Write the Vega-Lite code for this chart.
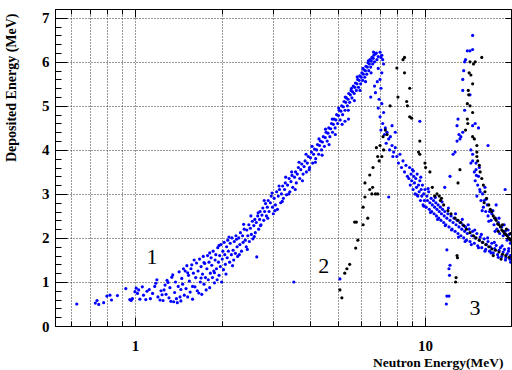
{
"$schema":"https://vega.github.io/schema/vega-lite/v6.json",
"width":456,"height":317,"autosize":"none",
"padding":{"left":55,"top":9,"right":1,"bottom":44},
"background":"white",
"config":{"view":{"stroke":"black","strokeWidth":1},
"axis":{"labelFont":"Liberation Serif","labelFontWeight":"bold","labelFontSize":15,"labelColor":"black","titleFont":"Liberation Serif","titleFontWeight":"bold","titleFontSize":14,"titleColor":"black","domainColor":"black","tickColor":"black","gridColor":"#333","gridDash":[1,2],"gridWidth":1,"labelOverlap":false,"labelFlush":false}},
"datasets":{
"pts":[
{"E":0.63,"D":0.5,"g":"b"},{"E":0.73,"D":0.52,"g":"b"},{"E":0.74,"D":0.58,"g":"b"},{"E":0.75,"D":0.49,"g":"b"},{"E":0.78,"D":0.53,"g":"b"},{"E":0.8,"D":0.68,"g":"b"},{"E":0.82,"D":0.7,"g":"b"},{"E":0.83,"D":0.59,"g":"b"},{"E":0.87,"D":0.69,"g":"b"},{"E":0.93,"D":0.85,"g":"b"},{"E":0.96,"D":0.6,"g":"b"},{"E":0.98,"D":0.62,"g":"b"},{"E":0.97,"D":0.58,"g":"b"},{"E":1.0,"D":0.78,"g":"b"},{"E":1.01,"D":0.86,"g":"b"},{"E":1.02,"D":0.74,"g":"b"},{"E":1.03,"D":0.82,"g":"b"},{"E":1.04,"D":0.61,"g":"b"},{"E":1.06,"D":0.89,"g":"b"},{"E":1.07,"D":0.7,"g":"b"},
{"E":1.09,"D":0.6,"g":"b"},{"E":1.1,"D":0.79,"g":"b"},{"E":1.12,"D":0.83,"g":"b"},{"E":1.13,"D":0.62,"g":"b"},{"E":1.15,"D":0.74,"g":"b"},{"E":1.17,"D":0.9,"g":"b"},{"E":1.18,"D":0.97,"g":"b"},{"E":1.19,"D":1.05,"g":"b"},{"E":1.2,"D":0.66,"g":"b"},{"E":1.22,"D":0.59,"g":"b"},{"E":1.23,"D":0.8,"g":"b"},{"E":1.25,"D":0.58,"g":"b"},{"E":1.26,"D":0.82,"g":"b"},{"E":1.27,"D":0.93,"g":"b"},{"E":1.28,"D":0.72,"g":"b"},{"E":1.3,"D":0.99,"g":"b"},{"E":1.31,"D":0.64,"g":"b"},{"E":1.32,"D":0.87,"g":"b"},{"E":1.33,"D":0.56,"g":"b"},{"E":1.34,"D":1.11,"g":"b"},{"E":1.35,"D":1.16,"g":"b"},{"E":1.36,"D":0.55,"g":"b"},{"E":1.37,"D":0.76,"g":"b"},{"E":1.38,"D":1.0,"g":"b"},{"E":1.39,"D":0.62,"g":"b"},{"E":1.4,"D":0.53,"g":"b"},{"E":1.41,"D":0.9,"g":"b"},{"E":1.42,"D":1.23,"g":"b"},{"E":1.43,"D":0.66,"g":"b"},{"E":1.44,"D":0.57,"g":"b"},{"E":1.45,"D":1.08,"g":"b"},{"E":1.46,"D":0.95,"g":"b"},{"E":1.47,"D":1.3,"g":"b"},{"E":1.48,"D":0.7,"g":"b"},{"E":1.49,"D":1.25,"g":"b"},{"E":1.5,"D":0.85,"g":"b"},{"E":1.51,"D":1.37,"g":"b"},{"E":1.52,"D":0.66,"g":"b"},{"E":1.53,"D":1.15,"g":"b"},{"E":1.54,"D":1.02,"g":"b"},{"E":1.55,"D":0.77,"g":"b"},{"E":1.56,"D":1.3,"g":"b"},{"E":1.57,"D":1.39,"g":"b"},{"E":1.58,"D":0.9,"g":"b"},{"E":1.59,"D":1.2,"g":"b"},{"E":1.6,"D":1.5,"g":"b"},{"E":1.61,"D":0.89,"g":"b"},{"E":1.62,"D":1.1,"g":"b"},{"E":1.63,"D":1.43,"g":"b"},{"E":1.64,"D":0.8,"g":"b"},
{"E":1.65,"D":1.25,"g":"b"},{"E":1.66,"D":0.75,"g":"b"},{"E":1.67,"D":1.52,"g":"b"},{"E":1.68,"D":1.0,"g":"b"},{"E":1.69,"D":1.35,"g":"b"},{"E":1.7,"D":0.72,"g":"b"},{"E":1.71,"D":1.18,"g":"b"},{"E":1.72,"D":1.58,"g":"b"},{"E":1.73,"D":0.95,"g":"b"},{"E":1.74,"D":1.42,"g":"b"},{"E":1.75,"D":1.1,"g":"b"},{"E":1.76,"D":0.82,"g":"b"},{"E":1.77,"D":1.3,"g":"b"},{"E":1.78,"D":1.6,"g":"b"},{"E":1.79,"D":1.05,"g":"b"},{"E":1.8,"D":1.45,"g":"b"},{"E":1.81,"D":0.87,"g":"b"},{"E":1.82,"D":1.2,"g":"b"},{"E":1.83,"D":1.55,"g":"b"},{"E":1.84,"D":1.38,"g":"b"},{"E":1.85,"D":1.1,"g":"b"},{"E":1.86,"D":1.7,"g":"b"},{"E":1.87,"D":1.25,"g":"b"},{"E":1.88,"D":0.98,"g":"b"},{"E":1.89,"D":1.5,"g":"b"},{"E":1.9,"D":1.62,"g":"b"},{"E":1.91,"D":1.3,"g":"b"},{"E":1.92,"D":1.05,"g":"b"},{"E":1.93,"D":1.78,"g":"b"},{"E":1.94,"D":1.45,"g":"b"},{"E":1.95,"D":1.15,"g":"b"},{"E":1.96,"D":1.6,"g":"b"},{"E":1.97,"D":1.35,"g":"b"},{"E":1.98,"D":1.85,"g":"b"},{"E":1.99,"D":1.0,"g":"b"},{"E":2.0,"D":1.52,"g":"b"},{"E":2.01,"D":1.7,"g":"b"},{"E":2.02,"D":1.28,"g":"b"},{"E":2.03,"D":1.9,"g":"b"},{"E":2.04,"D":1.62,"g":"b"},{"E":2.05,"D":1.4,"g":"b"},{"E":2.07,"D":1.8,"g":"b"},{"E":2.08,"D":1.55,"g":"b"},{"E":2.09,"D":1.95,"g":"b"},{"E":2.1,"D":1.7,"g":"b"},
{"E":2.12,"D":1.45,"g":"b"},{"E":2.13,"D":1.88,"g":"b"},{"E":2.15,"D":1.62,"g":"b"},{"E":2.16,"D":2.0,"g":"b"},{"E":2.18,"D":1.72,"g":"b"},{"E":2.19,"D":1.5,"g":"b"},{"E":2.2,"D":1.92,"g":"b"},{"E":2.22,"D":1.65,"g":"b"},{"E":2.23,"D":2.05,"g":"b"},{"E":2.25,"D":1.8,"g":"b"},{"E":2.26,"D":1.58,"g":"b"},{"E":2.28,"D":2.0,"g":"b"},{"E":2.3,"D":1.85,"g":"b"},{"E":2.31,"D":2.12,"g":"b"},{"E":2.33,"D":1.7,"g":"b"},{"E":2.35,"D":2.05,"g":"b"},{"E":2.36,"D":1.9,"g":"b"},{"E":2.38,"D":2.2,"g":"b"},{"E":2.4,"D":1.95,"g":"b"},{"E":2.42,"D":1.8,"g":"b"},{"E":2.43,"D":2.18,"g":"b"},{"E":2.45,"D":2.05,"g":"b"},{"E":2.47,"D":2.3,"g":"b"},{"E":2.48,"D":1.92,"g":"b"},{"E":2.5,"D":2.22,"g":"b"},{"E":2.52,"D":2.08,"g":"b"},{"E":2.54,"D":2.38,"g":"b"},{"E":2.55,"D":1.98,"g":"b"},{"E":2.57,"D":2.28,"g":"b"},{"E":2.59,"D":2.42,"g":"b"},{"E":2.6,"D":2.12,"g":"b"},{"E":2.63,"D":1.57,"g":"b"},{"E":2.62,"D":2.35,"g":"b"},{"E":2.65,"D":2.5,"g":"b"},{"E":2.67,"D":2.2,"g":"b"},{"E":2.69,"D":2.42,"g":"b"},{"E":2.7,"D":2.6,"g":"b"},{"E":2.72,"D":2.3,"g":"b"},{"E":2.74,"D":2.52,"g":"b"},{"E":2.76,"D":2.68,"g":"b"},{"E":2.78,"D":2.4,"g":"b"},{"E":2.8,"D":2.6,"g":"b"},{"E":2.82,"D":2.78,"g":"b"},{"E":2.84,"D":2.5,"g":"b"},{"E":2.86,"D":2.7,"g":"b"},{"E":2.88,"D":2.85,"g":"b"},{"E":2.9,"D":2.6,"g":"b"},{"E":2.93,"D":2.8,"g":"b"},{"E":2.95,"D":2.95,"g":"b"},{"E":2.98,"D":2.7,"g":"b"},
{"E":3.0,"D":2.55,"g":"b"},{"E":3.02,"D":2.9,"g":"b"},{"E":3.05,"D":2.75,"g":"b"},{"E":3.08,"D":3.05,"g":"b"},{"E":3.1,"D":2.65,"g":"b"},{"E":3.12,"D":2.95,"g":"b"},{"E":3.15,"D":3.1,"g":"b"},{"E":3.18,"D":2.8,"g":"b"},{"E":3.2,"D":3.0,"g":"b"},{"E":3.23,"D":3.18,"g":"b"},{"E":3.25,"D":2.9,"g":"b"},{"E":3.28,"D":3.1,"g":"b"},{"E":3.3,"D":3.25,"g":"b"},{"E":3.33,"D":2.98,"g":"b"},{"E":3.36,"D":3.2,"g":"b"},{"E":3.4,"D":3.35,"g":"b"},{"E":3.42,"D":3.05,"g":"b"},{"E":3.45,"D":3.28,"g":"b"},{"E":3.48,"D":3.42,"g":"b"},{"E":3.5,"D":3.15,"g":"b"},{"E":3.53,"D":1.0,"g":"b"},{"E":3.55,"D":3.38,"g":"b"},{"E":3.58,"D":3.5,"g":"b"},{"E":3.6,"D":3.25,"g":"b"},{"E":3.63,"D":3.45,"g":"b"},{"E":3.66,"D":3.6,"g":"b"},{"E":3.7,"D":3.35,"g":"b"},{"E":3.73,"D":3.55,"g":"b"},{"E":3.76,"D":3.68,"g":"b"},{"E":3.8,"D":3.45,"g":"b"},{"E":3.83,"D":3.62,"g":"b"},{"E":3.86,"D":3.75,"g":"b"},{"E":3.9,"D":3.5,"g":"b"},{"E":3.93,"D":3.7,"g":"b"},{"E":3.96,"D":3.85,"g":"b"},
{"E":4.0,"D":3.6,"g":"b"},{"E":4.03,"D":3.82,"g":"b"},{"E":4.06,"D":3.95,"g":"b"},{"E":4.1,"D":3.7,"g":"b"},{"E":4.13,"D":3.9,"g":"b"},{"E":4.16,"D":4.02,"g":"b"},{"E":4.2,"D":3.8,"g":"b"},{"E":4.23,"D":4.0,"g":"b"},{"E":4.26,"D":4.12,"g":"b"},{"E":4.3,"D":3.9,"g":"b"},{"E":4.33,"D":4.1,"g":"b"},{"E":4.36,"D":4.2,"g":"b"},{"E":4.4,"D":4.0,"g":"b"},{"E":4.43,"D":4.18,"g":"b"},{"E":4.46,"D":4.3,"g":"b"},{"E":4.5,"D":4.08,"g":"b"},{"E":4.53,"D":4.28,"g":"b"},{"E":4.56,"D":4.4,"g":"b"},{"E":4.6,"D":4.2,"g":"b"},{"E":4.63,"D":4.38,"g":"b"},{"E":4.66,"D":4.5,"g":"b"},{"E":4.7,"D":4.3,"g":"b"},{"E":4.73,"D":4.48,"g":"b"},{"E":4.76,"D":4.6,"g":"b"},{"E":4.8,"D":4.4,"g":"b"},{"E":4.83,"D":4.58,"g":"b"},{"E":4.86,"D":4.7,"g":"b"},{"E":4.9,"D":4.5,"g":"b"},{"E":4.93,"D":4.68,"g":"b"},{"E":4.96,"D":4.8,"g":"b"},{"E":5.0,"D":4.6,"g":"b"},{"E":5.45,"D":4.7,"g":"b"},{"E":5.3,"D":4.65,"g":"b"},{"E":5.09,"D":1.07,"g":"b"},
{"E":5.03,"D":4.78,"g":"b"},{"E":5.06,"D":4.9,"g":"b"},{"E":5.1,"D":4.68,"g":"b"},{"E":5.13,"D":4.88,"g":"b"},{"E":5.16,"D":5.0,"g":"b"},{"E":5.2,"D":4.8,"g":"b"},{"E":5.23,"D":4.98,"g":"b"},{"E":5.26,"D":5.1,"g":"b"},{"E":5.3,"D":4.9,"g":"b"},{"E":5.33,"D":5.08,"g":"b"},{"E":5.36,"D":5.18,"g":"b"},{"E":5.4,"D":5.0,"g":"b"},{"E":5.43,"D":5.15,"g":"b"},{"E":5.46,"D":5.28,"g":"b"},{"E":5.5,"D":5.08,"g":"b"},{"E":5.53,"D":5.25,"g":"b"},{"E":5.56,"D":5.35,"g":"b"},{"E":5.6,"D":5.18,"g":"b"},{"E":5.63,"D":5.32,"g":"b"},{"E":5.66,"D":5.45,"g":"b"},{"E":5.7,"D":5.28,"g":"b"},{"E":5.73,"D":5.42,"g":"b"},{"E":5.76,"D":5.52,"g":"b"},{"E":5.8,"D":5.35,"g":"b"},{"E":5.83,"D":5.5,"g":"b"},{"E":5.86,"D":5.6,"g":"b"},{"E":5.9,"D":5.42,"g":"b"},{"E":5.93,"D":5.58,"g":"b"},{"E":5.96,"D":5.68,"g":"b"},{"E":6.0,"D":5.5,"g":"b"},
{"E":6.03,"D":5.65,"g":"b"},{"E":6.06,"D":5.75,"g":"b"},{"E":6.1,"D":5.58,"g":"b"},{"E":6.13,"D":5.72,"g":"b"},{"E":6.16,"D":5.82,"g":"b"},{"E":6.2,"D":5.65,"g":"b"},{"E":6.23,"D":5.8,"g":"b"},{"E":6.26,"D":5.9,"g":"b"},{"E":6.3,"D":5.72,"g":"b"},{"E":6.33,"D":5.88,"g":"b"},{"E":6.36,"D":5.98,"g":"b"},{"E":6.4,"D":5.8,"g":"b"},{"E":6.43,"D":5.95,"g":"b"},{"E":6.46,"D":6.05,"g":"b"},{"E":6.5,"D":5.88,"g":"b"},{"E":6.53,"D":6.02,"g":"b"},{"E":6.56,"D":6.1,"g":"b"},{"E":6.6,"D":5.95,"g":"b"},{"E":6.63,"D":6.08,"g":"b"},{"E":6.66,"D":6.15,"g":"b"},{"E":6.7,"D":6.0,"g":"b"},{"E":6.75,"D":6.18,"g":"b"},{"E":6.8,"D":6.2,"g":"b"},{"E":6.9,"D":6.12,"g":"b"},{"E":7.0,"D":6.22,"g":"b"},{"E":7.1,"D":6.15,"g":"b"},
{"E":1.24,"D":0.71,"g":"b"},{"E":1.29,"D":1.04,"g":"b"},{"E":1.44,"D":0.83,"g":"b"},{"E":1.52,"D":1.21,"g":"b"},{"E":1.58,"D":0.61,"g":"b"},{"E":1.69,"D":1.09,"g":"b"},{"E":1.73,"D":1.44,"g":"b"},{"E":1.81,"D":1.66,"g":"b"},{"E":1.88,"D":1.21,"g":"b"},{"E":1.95,"D":1.83,"g":"b"},{"E":2.06,"D":1.18,"g":"b"},{"E":2.11,"D":2.02,"g":"b"},{"E":2.17,"D":1.37,"g":"b"},{"E":2.24,"D":1.97,"g":"b"},{"E":2.29,"D":1.62,"g":"b"},{"E":2.37,"D":2.31,"g":"b"},{"E":2.44,"D":1.74,"g":"b"},{"E":2.51,"D":2.5,"g":"b"},{"E":2.58,"D":2.03,"g":"b"},{"E":2.66,"D":2.57,"g":"b"},{"E":2.71,"D":2.28,"g":"b"},{"E":2.79,"D":2.85,"g":"b"},{"E":2.87,"D":2.45,"g":"b"},{"E":2.97,"D":3.02,"g":"b"},{"E":3.04,"D":2.62,"g":"b"},{"E":3.14,"D":3.18,"g":"b"},{"E":3.22,"D":2.83,"g":"b"},{"E":3.31,"D":3.38,"g":"b"},{"E":3.39,"D":3.0,"g":"b"},{"E":3.47,"D":3.5,"g":"b"},{"E":3.57,"D":3.1,"g":"b"},{"E":3.68,"D":3.72,"g":"b"},{"E":3.78,"D":3.3,"g":"b"},{"E":3.89,"D":3.9,"g":"b"},{"E":3.99,"D":3.55,"g":"b"},{"E":4.08,"D":4.08,"g":"b"},{"E":4.19,"D":3.72,"g":"b"},{"E":4.31,"D":4.25,"g":"b"},{"E":4.42,"D":3.88,"g":"b"},{"E":4.54,"D":4.47,"g":"b"},{"E":4.67,"D":4.12,"g":"b"},{"E":4.79,"D":4.7,"g":"b"},{"E":4.91,"D":4.35,"g":"b"},{"E":5.04,"D":4.95,"g":"b"},{"E":5.18,"D":4.58,"g":"b"},{"E":5.31,"D":5.2,"g":"b"},{"E":5.44,"D":4.9,"g":"b"},{"E":5.58,"D":5.4,"g":"b"},{"E":5.71,"D":5.12,"g":"b"},{"E":5.84,"D":5.66,"g":"b"},{"E":5.97,"D":5.35,"g":"b"},{"E":6.11,"D":5.85,"g":"b"},{"E":6.24,"D":5.55,"g":"b"},{"E":6.38,"D":6.02,"g":"b"},{"E":6.52,"D":5.75,"g":"b"},{"E":6.65,"D":6.22,"g":"b"},{"E":6.83,"D":6.05,"g":"b"},
{"E":7.05,"D":6.1,"g":"b"},{"E":7.15,"D":6.05,"g":"b"},{"E":7.2,"D":5.95,"g":"b"},{"E":6.9,"D":5.85,"g":"b"},{"E":7.1,"D":5.75,"g":"b"},{"E":6.7,"D":5.45,"g":"b"},{"E":6.75,"D":5.3,"g":"b"},{"E":6.5,"D":5.2,"g":"b"},{"E":7.0,"D":5.6,"g":"b"},{"E":6.85,"D":5.55,"g":"b"},{"E":7.05,"D":5.4,"g":"b"},{"E":6.95,"D":5.15,"g":"b"},{"E":7.1,"D":5.05,"g":"b"},{"E":6.9,"D":4.95,"g":"b"},{"E":7.2,"D":4.85,"g":"b"},{"E":7.0,"D":4.75,"g":"b"},{"E":7.15,"D":4.6,"g":"b"},{"E":7.3,"D":4.5,"g":"b"},{"E":7.05,"D":4.45,"g":"b"},{"E":7.25,"D":4.35,"g":"b"},{"E":7.4,"D":4.4,"g":"b"},{"E":7.5,"D":4.25,"g":"b"},{"E":7.35,"D":4.15,"g":"b"},{"E":7.6,"D":4.3,"g":"b"},{"E":7.7,"D":4.1,"g":"b"},{"E":7.55,"D":4.0,"g":"b"},{"E":7.8,"D":3.95,"g":"b"},{"E":7.9,"D":4.05,"g":"b"},{"E":7.75,"D":3.85,"g":"b"},{"E":8.0,"D":3.85,"g":"b"},{"E":8.1,"D":3.7,"g":"b"},{"E":8.2,"D":3.9,"g":"b"},{"E":8.3,"D":3.6,"g":"b"},{"E":8.4,"D":3.75,"g":"b"},{"E":8.5,"D":3.5,"g":"b"},{"E":8.6,"D":3.65,"g":"b"},{"E":8.7,"D":3.4,"g":"b"},{"E":7.7,"D":4.55,"g":"b"},{"E":7.9,"D":4.4,"g":"b"},{"E":7.5,"D":2.93,"g":"b"},{"E":9.6,"D":4.65,"g":"b"},
{"E":8.8,"D":3.35,"g":"b"},{"E":8.85,"D":3.6,"g":"b"},{"E":8.9,"D":3.2,"g":"b"},{"E":8.95,"D":3.45,"g":"b"},{"E":9.0,"D":3.3,"g":"b"},{"E":9.05,"D":3.55,"g":"b"},{"E":9.1,"D":3.1,"g":"b"},{"E":9.15,"D":3.4,"g":"b"},{"E":9.2,"D":3.25,"g":"b"},{"E":9.25,"D":3.0,"g":"b"},{"E":9.3,"D":3.35,"g":"b"},{"E":9.35,"D":3.15,"g":"b"},{"E":9.4,"D":3.45,"g":"b"},{"E":9.45,"D":2.95,"g":"b"},{"E":9.5,"D":3.2,"g":"b"},{"E":9.55,"D":3.05,"g":"b"},{"E":9.6,"D":3.3,"g":"b"},{"E":9.65,"D":2.85,"g":"b"},{"E":9.7,"D":3.1,"g":"b"},{"E":9.75,"D":2.95,"g":"b"},{"E":9.8,"D":3.2,"g":"b"},{"E":9.85,"D":2.75,"g":"b"},{"E":9.9,"D":3.0,"g":"b"},{"E":9.95,"D":2.85,"g":"b"},{"E":10.0,"D":3.1,"g":"b"},
{"E":10.1,"D":2.7,"g":"b"},{"E":10.15,"D":2.95,"g":"b"},{"E":10.2,"D":2.85,"g":"b"},{"E":10.3,"D":3.05,"g":"b"},{"E":10.35,"D":2.65,"g":"b"},{"E":10.4,"D":2.8,"g":"b"},{"E":10.5,"D":2.9,"g":"b"},{"E":10.55,"D":2.6,"g":"b"},{"E":10.6,"D":2.75,"g":"b"},{"E":10.7,"D":2.85,"g":"b"},{"E":10.75,"D":2.55,"g":"b"},{"E":10.8,"D":2.7,"g":"b"},{"E":10.9,"D":2.8,"g":"b"},{"E":10.95,"D":2.5,"g":"b"},{"E":11.0,"D":2.65,"g":"b"},{"E":11.1,"D":2.75,"g":"b"},{"E":11.15,"D":2.45,"g":"b"},{"E":11.2,"D":2.6,"g":"b"},{"E":11.3,"D":2.7,"g":"b"},{"E":11.35,"D":2.4,"g":"b"},{"E":11.4,"D":2.55,"g":"b"},{"E":11.5,"D":2.65,"g":"b"},{"E":11.6,"D":2.35,"g":"b"},{"E":11.65,"D":2.5,"g":"b"},{"E":11.7,"D":2.6,"g":"b"},{"E":11.8,"D":2.3,"g":"b"},{"E":11.9,"D":2.45,"g":"b"},{"E":12.0,"D":2.55,"g":"b"},
{"E":12.1,"D":2.25,"g":"b"},{"E":12.2,"D":2.4,"g":"b"},{"E":12.3,"D":2.5,"g":"b"},{"E":12.4,"D":2.2,"g":"b"},{"E":12.5,"D":2.35,"g":"b"},{"E":12.6,"D":2.45,"g":"b"},{"E":12.7,"D":2.15,"g":"b"},{"E":12.8,"D":2.3,"g":"b"},{"E":12.9,"D":2.4,"g":"b"},{"E":13.0,"D":2.1,"g":"b"},{"E":13.1,"D":2.25,"g":"b"},{"E":13.2,"D":2.35,"g":"b"},{"E":13.3,"D":2.05,"g":"b"},{"E":13.4,"D":2.2,"g":"b"},{"E":13.5,"D":2.3,"g":"b"},{"E":13.6,"D":2.0,"g":"b"},{"E":13.7,"D":2.15,"g":"b"},{"E":13.8,"D":2.25,"g":"b"},{"E":13.9,"D":1.95,"g":"b"},{"E":14.0,"D":2.1,"g":"b"},
{"E":14.2,"D":2.2,"g":"b"},{"E":14.3,"D":1.92,"g":"b"},{"E":14.5,"D":2.05,"g":"b"},{"E":14.6,"D":2.15,"g":"b"},{"E":14.8,"D":1.88,"g":"b"},{"E":14.9,"D":2.0,"g":"b"},{"E":15.1,"D":2.1,"g":"b"},{"E":15.2,"D":1.82,"g":"b"},{"E":15.4,"D":1.95,"g":"b"},{"E":15.5,"D":2.02,"g":"b"},{"E":15.7,"D":1.78,"g":"b"},{"E":15.8,"D":1.9,"g":"b"},{"E":16.0,"D":1.98,"g":"b"},{"E":16.2,"D":1.74,"g":"b"},{"E":16.3,"D":1.85,"g":"b"},{"E":16.5,"D":1.92,"g":"b"},{"E":16.7,"D":1.7,"g":"b"},{"E":16.8,"D":1.8,"g":"b"},{"E":17.0,"D":1.88,"g":"b"},
{"E":17.2,"D":1.66,"g":"b"},{"E":17.4,"D":1.76,"g":"b"},{"E":17.6,"D":1.83,"g":"b"},{"E":17.8,"D":1.62,"g":"b"},{"E":18.0,"D":1.72,"g":"b"},{"E":18.2,"D":1.78,"g":"b"},{"E":18.4,"D":1.58,"g":"b"},{"E":18.6,"D":1.68,"g":"b"},{"E":18.8,"D":1.74,"g":"b"},{"E":19.0,"D":1.55,"g":"b"},{"E":19.2,"D":1.64,"g":"b"},{"E":19.4,"D":1.7,"g":"b"},{"E":19.6,"D":1.52,"g":"b"},{"E":19.7,"D":1.6,"g":"b"},{"E":19.75,"D":1.45,"g":"b"},
{"E":9.12,"D":3.52,"g":"b"},{"E":9.38,"D":2.98,"g":"b"},{"E":9.67,"D":3.38,"g":"b"},{"E":9.92,"D":2.72,"g":"b"},{"E":10.25,"D":3.12,"g":"b"},{"E":10.45,"D":2.58,"g":"b"},{"E":10.85,"D":2.92,"g":"b"},{"E":11.05,"D":2.42,"g":"b"},{"E":11.45,"D":2.82,"g":"b"},{"E":11.75,"D":2.28,"g":"b"},{"E":12.05,"D":2.68,"g":"b"},{"E":12.35,"D":2.18,"g":"b"},{"E":12.75,"D":2.55,"g":"b"},{"E":13.05,"D":2.02,"g":"b"},{"E":13.45,"D":2.42,"g":"b"},{"E":13.75,"D":1.92,"g":"b"},{"E":14.1,"D":2.3,"g":"b"},{"E":14.45,"D":1.85,"g":"b"},{"E":14.85,"D":2.18,"g":"b"},{"E":15.3,"D":1.78,"g":"b"},{"E":15.65,"D":2.08,"g":"b"},{"E":16.1,"D":1.7,"g":"b"},{"E":16.45,"D":2.0,"g":"b"},{"E":16.9,"D":1.66,"g":"b"},{"E":17.35,"D":1.9,"g":"b"},{"E":17.9,"D":1.56,"g":"b"},{"E":18.45,"D":1.82,"g":"b"},{"E":18.95,"D":1.5,"g":"b"},{"E":19.45,"D":1.76,"g":"b"},
{"E":11.7,"D":3.15,"g":"b"},{"E":12.2,"D":3.4,"g":"b"},{"E":12.5,"D":3.9,"g":"b"},
{"E":11.85,"D":0.5,"g":"b"},{"E":11.9,"D":0.68,"g":"b"},{"E":12.1,"D":0.68,"g":"b"},{"E":12.1,"D":1.3,"g":"b"},{"E":12.2,"D":1.38,"g":"b"},{"E":12.15,"D":1.15,"g":"b"},{"E":11.9,"D":1.73,"g":"b"},{"E":12.7,"D":3.95,"g":"b"},
{"E":12.9,"D":4.2,"g":"b"},{"E":13.1,"D":4.35,"g":"b"},{"E":13.3,"D":4.3,"g":"b"},{"E":12.9,"D":4.55,"g":"b"},{"E":13.0,"D":4.7,"g":"b"},{"E":13.5,"D":4.4,"g":"b"},{"E":13.7,"D":4.9,"g":"b"},{"E":13.5,"D":5.35,"g":"b"},{"E":13.5,"D":5.6,"g":"b"},{"E":13.6,"D":5.8,"g":"b"},{"E":13.7,"D":6.0,"g":"b"},{"E":13.8,"D":6.05,"g":"b"},{"E":14.0,"D":6.25,"g":"b"},{"E":14.3,"D":6.25,"g":"b"},{"E":14.6,"D":6.28,"g":"b"},{"E":14.6,"D":6.6,"g":"b"},{"E":14.6,"D":4.55,"g":"b"},{"E":14.9,"D":4.6,"g":"b"},{"E":15.3,"D":4.5,"g":"b"},{"E":16.5,"D":4.1,"g":"b"},{"E":14.3,"D":5.25,"g":"b"},{"E":14.4,"D":4.0,"g":"b"},{"E":14.6,"D":3.9,"g":"b"},{"E":15.0,"D":3.7,"g":"b"},{"E":13.2,"D":4.25,"g":"b"},{"E":14.4,"D":3.7,"g":"b"},
{"E":14.6,"D":3.75,"g":"b"},{"E":14.8,"D":3.5,"g":"b"},{"E":14.9,"D":3.3,"g":"b"},{"E":15.0,"D":3.55,"g":"b"},{"E":15.2,"D":3.2,"g":"b"},{"E":15.3,"D":3.4,"g":"b"},{"E":15.1,"D":2.95,"g":"b"},{"E":15.5,"D":3.05,"g":"b"},{"E":15.6,"D":2.85,"g":"b"},{"E":15.8,"D":3.0,"g":"b"},{"E":15.9,"D":2.7,"g":"b"},{"E":16.0,"D":2.85,"g":"b"},{"E":16.2,"D":2.6,"g":"b"},{"E":16.4,"D":2.75,"g":"b"},{"E":16.5,"D":2.5,"g":"b"},{"E":16.7,"D":2.6,"g":"b"},{"E":16.9,"D":2.4,"g":"b"},{"E":17.0,"D":2.55,"g":"b"},{"E":17.3,"D":2.3,"g":"b"},{"E":17.5,"D":2.45,"g":"b"},{"E":17.7,"D":2.2,"g":"b"},{"E":17.9,"D":2.35,"g":"b"},{"E":18.1,"D":2.1,"g":"b"},{"E":18.4,"D":2.25,"g":"b"},{"E":18.6,"D":2.05,"g":"b"},{"E":18.9,"D":2.15,"g":"b"},{"E":19.2,"D":1.95,"g":"b"},{"E":19.5,"D":2.08,"g":"b"},{"E":19.7,"D":1.88,"g":"b"},{"E":15.4,"D":3.6,"g":"b"},{"E":16.1,"D":3.15,"g":"b"},{"E":17.6,"D":2.75,"g":"b"},{"E":18.9,"D":3.1,"g":"b"},
{"E":15.05,"D":3.42,"g":"b"},{"E":15.45,"D":3.1,"g":"b"},{"E":15.75,"D":2.62,"g":"b"},{"E":16.25,"D":2.88,"g":"b"},{"E":16.6,"D":2.38,"g":"b"},{"E":17.15,"D":2.62,"g":"b"},{"E":17.45,"D":2.15,"g":"b"},{"E":18.0,"D":2.45,"g":"b"},{"E":18.75,"D":2.3,"g":"b"},{"E":19.35,"D":2.18,"g":"b"},
{"E":5.17,"D":0.64,"g":"k"},{"E":5.09,"D":0.82,"g":"k"},{"E":5.29,"D":1.2,"g":"k"},{"E":5.38,"D":1.3,"g":"k"},{"E":5.5,"D":1.4,"g":"k"},{"E":5.77,"D":1.77,"g":"k"},{"E":5.87,"D":1.95,"g":"k"},{"E":5.72,"D":2.36,"g":"k"},{"E":5.8,"D":2.36,"g":"k"},{"E":6.12,"D":2.3,"g":"k"},{"E":6.35,"D":2.45,"g":"k"},{"E":6.12,"D":2.7,"g":"k"},{"E":6.21,"D":2.93,"g":"k"},{"E":6.56,"D":3.0,"g":"k"},{"E":6.75,"D":3.0,"g":"k"},{"E":6.87,"D":3.0,"g":"k"},{"E":6.45,"D":3.1,"g":"k"},{"E":6.21,"D":3.25,"g":"k"},{"E":6.45,"D":3.43,"g":"k"},{"E":6.62,"D":3.6,"g":"k"},{"E":6.87,"D":3.85,"g":"k"},{"E":7.1,"D":3.85,"g":"k"},{"E":6.95,"D":3.75,"g":"k"},{"E":6.8,"D":4.05,"g":"k"},{"E":7.17,"D":4.3,"g":"k"},{"E":7.3,"D":4.45,"g":"k"},{"E":7.4,"D":4.35,"g":"k"},{"E":7.0,"D":4.1,"g":"k"},{"E":7.58,"D":5.0,"g":"k"},{"E":8.0,"D":5.86,"g":"k"},{"E":8.5,"D":6.1,"g":"k"},{"E":8.4,"D":6.05,"g":"k"},{"E":6.6,"D":3.15,"g":"k"},{"E":7.2,"D":4.0,"g":"k"},
{"E":8.5,"D":5.75,"g":"k"},{"E":8.86,"D":5.4,"g":"k"},{"E":8.65,"D":5.1,"g":"k"},{"E":8.7,"D":5.0,"g":"k"},{"E":8.07,"D":5.2,"g":"k"},{"E":8.86,"D":4.75,"g":"k"},{"E":9.0,"D":4.72,"g":"k"},{"E":9.6,"D":4.2,"g":"k"},{"E":9.6,"D":3.9,"g":"k"},{"E":10.0,"D":3.7,"g":"k"},{"E":10.05,"D":3.6,"g":"k"},{"E":10.4,"D":3.5,"g":"k"},{"E":10.6,"D":3.15,"g":"k"},{"E":11.0,"D":3.0,"g":"k"},{"E":11.4,"D":2.9,"g":"k"},{"E":11.2,"D":2.95,"g":"k"},{"E":9.5,"D":3.95,"g":"k"},
{"E":10.8,"D":2.95,"g":"k"},{"E":11.3,"D":2.85,"g":"k"},{"E":11.6,"D":2.75,"g":"k"},{"E":12.0,"D":2.62,"g":"k"},{"E":12.3,"D":2.55,"g":"k"},{"E":12.7,"D":2.45,"g":"k"},{"E":13.0,"D":2.4,"g":"k"},{"E":13.3,"D":2.35,"g":"k"},{"E":13.6,"D":2.28,"g":"k"},{"E":13.9,"D":2.2,"g":"k"},{"E":14.3,"D":2.12,"g":"k"},{"E":14.7,"D":2.05,"g":"k"},{"E":15.0,"D":2.0,"g":"k"},{"E":15.4,"D":1.95,"g":"k"},{"E":15.8,"D":1.9,"g":"k"},{"E":16.2,"D":1.85,"g":"k"},{"E":16.6,"D":1.8,"g":"k"},{"E":17.0,"D":1.75,"g":"k"},{"E":17.5,"D":1.72,"g":"k"},{"E":18.0,"D":1.68,"g":"k"},{"E":18.5,"D":1.63,"g":"k"},{"E":19.0,"D":1.6,"g":"k"},{"E":19.5,"D":1.56,"g":"k"},{"E":17.2,"D":1.6,"g":"k"},{"E":18.3,"D":1.52,"g":"k"},
{"E":12.9,"D":1.6,"g":"k"},{"E":12.95,"D":1.55,"g":"k"},{"E":12.8,"D":1.1,"g":"k"},{"E":12.75,"D":1.0,"g":"k"},{"E":13.2,"D":3.55,"g":"k"},{"E":13.0,"D":3.25,"g":"k"},
{"E":14.3,"D":6.0,"g":"k"},{"E":14.7,"D":5.95,"g":"k"},{"E":15.7,"D":6.1,"g":"k"},{"E":14.2,"D":5.75,"g":"k"},{"E":14.4,"D":5.7,"g":"k"},{"E":14.6,"D":5.5,"g":"k"},{"E":14.1,"D":5.35,"g":"k"},{"E":14.15,"D":5.25,"g":"k"},{"E":14.0,"D":5.05,"g":"k"},{"E":14.3,"D":5.0,"g":"k"},{"E":14.0,"D":4.7,"g":"k"},{"E":14.05,"D":4.6,"g":"k"},{"E":14.6,"D":4.85,"g":"k"},{"E":13.8,"D":4.45,"g":"k"},{"E":14.6,"D":4.3,"g":"k"},{"E":14.8,"D":4.25,"g":"k"},{"E":15.1,"D":4.1,"g":"k"},{"E":15.1,"D":3.95,"g":"k"},{"E":15.1,"D":3.85,"g":"k"},{"E":15.2,"D":3.75,"g":"k"},{"E":15.4,"D":3.65,"g":"k"},{"E":14.9,"D":6.0,"g":"k"},
{"E":15.5,"D":3.5,"g":"k"},{"E":15.7,"D":3.35,"g":"k"},{"E":15.9,"D":3.2,"g":"k"},{"E":16.1,"D":3.05,"g":"k"},{"E":16.3,"D":2.9,"g":"k"},{"E":16.0,"D":2.8,"g":"k"},{"E":16.6,"D":2.75,"g":"k"},{"E":16.8,"D":2.65,"g":"k"},{"E":17.0,"D":2.6,"g":"k"},{"E":17.2,"D":2.5,"g":"k"},{"E":17.4,"D":2.45,"g":"k"},{"E":17.6,"D":2.4,"g":"k"},{"E":17.8,"D":2.32,"g":"k"},{"E":18.0,"D":2.3,"g":"k"},{"E":18.2,"D":2.25,"g":"k"},{"E":18.4,"D":2.18,"g":"k"},{"E":18.6,"D":2.15,"g":"k"},{"E":18.8,"D":2.1,"g":"k"},{"E":19.0,"D":2.08,"g":"k"},{"E":19.2,"D":2.05,"g":"k"},{"E":19.4,"D":2.0,"g":"k"},{"E":19.6,"D":1.98,"g":"k"},{"E":19.75,"D":1.95,"g":"k"},{"E":18.5,"D":2.3,"g":"k"},{"E":19.1,"D":2.2,"g":"k"},{"E":17.9,"D":2.15,"g":"k"},{"E":19.7,"D":2.1,"g":"k"}
],
"labels":[{"E":1.144,"D":1.57,"t":"1"},{"E":4.48,"D":1.36,"t":"2"},{"E":14.87,"D":0.42,"t":"3"}]
},
"layer":[
{"data":{"name":"pts"},
"mark":{"type":"point","filled":true,"shape":"circle","size":10,"opacity":1,"clip":true},
"encoding":{
"x":{"field":"E","type":"quantitative","scale":{"type":"log","domain":[0.53,19.8],"nice":false},
"axis":{"orient":"bottom","values":[0.6,0.7,0.8,0.9,1,2,3,4,5,6,7,8,9,10],"labelExpr":"datum.value == 1 || datum.value == 10 ? '' + datum.value : ''","tickSize":{"condition":{"test":"datum.value == 1 || datum.value == 10","value":-9},"value":-5},"labelPadding":21,"grid":true,"title":"Neutron Energy(MeV)","titleFontSize":13.5,"titleAnchor":"end","titleAlign":"right","titleX":448,"titleY":36,"titleBaseline":"middle"}},
"y":{"field":"D","type":"quantitative","scale":{"domain":[0,7.2],"nice":false,"zero":false},
"axis":{"orient":"left","values":[0,0.2,0.4,0.6,0.8,1,1.2,1.4,1.6,1.8,2,2.2,2.4,2.6,2.8,3,3.2,3.4,3.6,3.8,4,4.2,4.4,4.6,4.8,5,5.2,5.4,5.6,5.8,6,6.2,6.4,6.6,6.8,7],"labelExpr":"abs(datum.value - round(datum.value)) < 0.01 ? '' + round(datum.value) : ''","tickSize":{"condition":{"test":"abs(datum.value - round(datum.value)) < 0.01","value":-12},"value":-6},"labelPadding":18,"grid":true,"gridOpacity":{"condition":{"test":"abs(datum.value - round(datum.value)) < 0.01","value":1},"value":0},"title":"Deposited Energy (MeV)","titleAnchor":"end","titleX":-37,"titleY":4}},
"color":{"field":"g","type":"nominal","scale":{"domain":["b","k"],"range":["#0000ff","#000000"]},"legend":null}}},
{"data":{"name":"labels"},
"mark":{"type":"text","font":"Liberation Serif","fontSize":22,"color":"black","align":"center","baseline":"middle"},
"encoding":{
"x":{"field":"E","type":"quantitative","axis":{"orient":"top","values":[0.6,0.7,0.8,0.9,1,2,3,4,5,6,7,8,9,10],"labels":false,"grid":false,"title":null,"tickSize":{"condition":{"test":"datum.value == 1 || datum.value == 10","value":-8},"value":-5}}},
"y":{"field":"D","type":"quantitative","axis":{"orient":"right","values":[1,2,3,4,5,6,7],"labels":false,"grid":false,"title":null,"tickSize":-6}},
"text":{"field":"t","type":"nominal"}}}
],
"resolve":{"axis":{"x":"independent","y":"independent"}}
}
